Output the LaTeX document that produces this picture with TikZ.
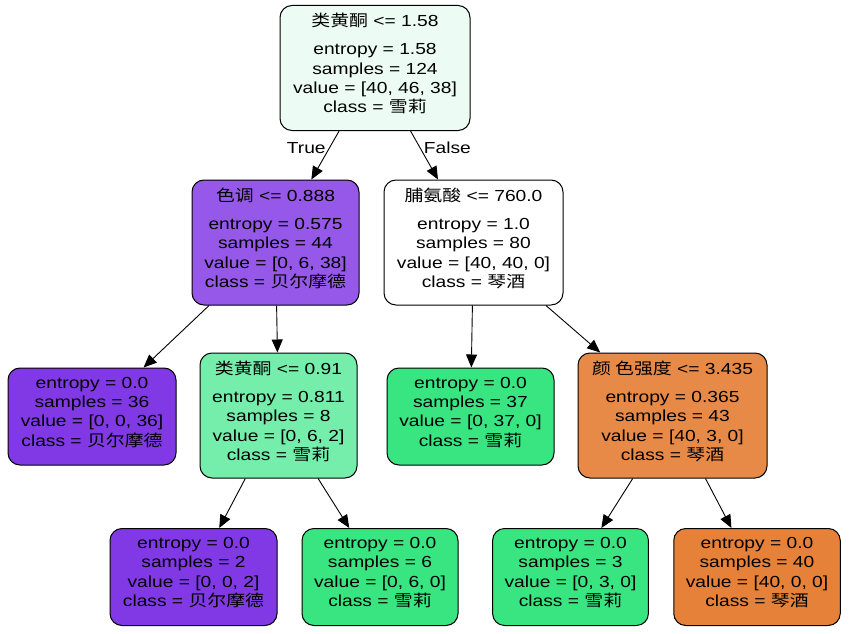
\documentclass[tikz,border=0pt]{standalone}
\usepackage{fontspec}
\setmainfont{Liberation Sans}[FakeStretch=1.2]
\newfontfamily\cjk{Noto Sans CJK SC}[FakeStretch=1.18]
\usetikzlibrary{arrows.meta}
\definecolor{rootfill}{RGB}{236,252,245}
\definecolor{huefill}{RGB}{149,88,233}
\definecolor{purplefill}{RGB}{129,57,229}
\definecolor{greenfill}{RGB}{57,229,129}
\definecolor{lightgreen}{RGB}{117,238,172}
\definecolor{orangefill}{RGB}{229,129,57}
\definecolor{colorfill}{RGB}{231,138,72}
\begin{document}
\begin{tikzpicture}[x=1pt,y=-1pt,
    every node/.style={font=\fontsize{16}{19.3}\selectfont},
    decision/.style={draw, rounded corners=12pt, line width=1pt, align=center,
        inner xsep=12pt, minimum height=125pt,
        execute at end node={\rule[-10pt]{0pt}{0pt}}},
    leaf/.style={decision, minimum height=97pt},
    arr/.style={-{Triangle[length=13pt,width=11pt]}, line width=0.9pt}]
    \useasboundingbox (0,0) rectangle (849,634);
    % level 0
    \node[decision, fill=rootfill,   minimum width=190pt] (root) at (375,68)
        {{\cjk 类黄酮} <= 1.58\\[9pt] entropy = 1.58\\ samples = 124\\ value = [40, 46, 38]\\ class = {\cjk 雪莉}};
    % level 1
    \node[decision, fill=huefill,    minimum width=167pt] (hue) at (275.5,242.5)
        {{\cjk 色调} <= 0.888\\[9pt] entropy = 0.575\\ samples = 44\\ value = [0, 6, 38]\\ class = {\cjk 贝尔摩德}};
    \node[decision, fill=white,      minimum width=179pt] (proline) at (473.5,242.5)
        {{\cjk 脯氨酸} <= 760.0\\[9pt] entropy = 1.0\\ samples = 80\\ value = [40, 40, 0]\\ class = {\cjk 琴酒}};
    % level 2
    \node[leaf,     fill=purplefill, minimum width=168pt] (leafA) at (92,416.5)
        {entropy = 0.0\\ samples = 36\\ value = [0, 0, 36]\\ class = {\cjk 贝尔摩德}};
    \node[decision, fill=lightgreen, minimum width=157pt] (flav) at (278.5,415.5)
        {{\cjk 类黄酮} <= 0.91\\[9pt] entropy = 0.811\\ samples = 8\\ value = [0, 6, 2]\\ class = {\cjk 雪莉}};
    \node[leaf,     fill=greenfill,  minimum width=167pt] (leafB) at (470.5,416.5)
        {entropy = 0.0\\ samples = 37\\ value = [0, 37, 0]\\ class = {\cjk 雪莉}};
    \node[decision, fill=colorfill,  minimum width=189pt] (color) at (672.5,415.5)
        {{\cjk 颜 色强度} <= 3.435\\[9pt] entropy = 0.365\\ samples = 43\\ value = [40, 3, 0]\\ class = {\cjk 琴酒}};
    % level 3
    \node[leaf, fill=purplefill, minimum width=167pt] (leafC) at (193.5,577)
        {entropy = 0.0\\ samples = 2\\ value = [0, 0, 2]\\ class = {\cjk 贝尔摩德}};
    \node[leaf, fill=greenfill,  minimum width=156pt] (leafD) at (380,577)
        {entropy = 0.0\\ samples = 6\\ value = [0, 6, 0]\\ class = {\cjk 雪莉}};
    \node[leaf, fill=greenfill,  minimum width=155pt] (leafE) at (570.5,577)
        {entropy = 0.0\\ samples = 3\\ value = [0, 3, 0]\\ class = {\cjk 雪莉}};
    \node[leaf, fill=orangefill, minimum width=166pt] (leafF) at (757,577)
        {entropy = 0.0\\ samples = 40\\ value = [40, 0, 0]\\ class = {\cjk 琴酒}};
    % edges
    \draw[arr] (root) -- node[pos=0.35, left] {True} (hue);
    \draw[arr] (root) -- node[pos=0.35, right] {False} (proline);
    \draw[arr] (hue) -- (leafA);
    \draw[arr] (hue) -- (flav);
    \draw[arr] (proline) -- (leafB);
    \draw[arr] (proline) -- (color);
    \draw[arr] (flav) -- (leafC);
    \draw[arr] (flav) -- (leafD);
    \draw[arr] (color) -- (leafE);
    \draw[arr] (color) -- (leafF);
\end{tikzpicture}
\end{document}
